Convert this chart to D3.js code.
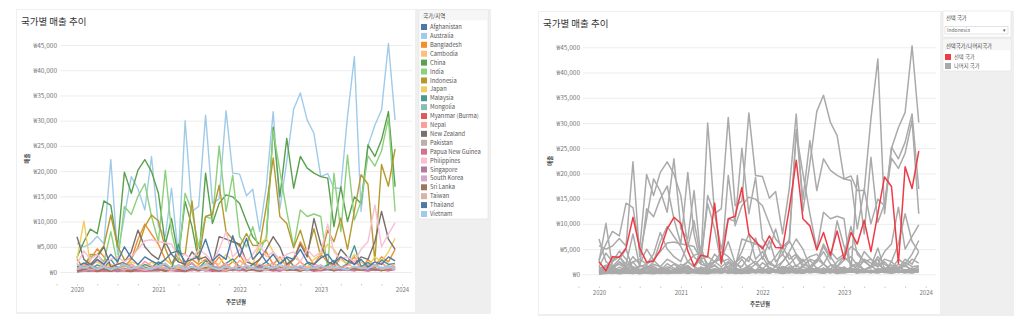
<!DOCTYPE html>
<html><head><meta charset="utf-8">
<script src="https://cdn.jsdelivr.net/npm/d3@7"></script>
<style>
html,body{margin:0;padding:0;background:#fff;}
svg{display:block;font-family:"Noto Sans CJK KR","Noto Sans",sans-serif;}
</style></head>
<body>
<svg id="c" width="1024" height="330"></svg>
<script>
// ---------- data ----------
const countries = ["Afghanistan","Australia","Bangladesh","Cambodia","China","India","Indonesia","Japan","Malaysia","Mongolia","Myanmar (Burma)","Nepal","New Zealand","Pakistan","Papua New Guinea","Philippines","Singapore","South Korea","Sri Lanka","Taiwan","Thailand","Vietnam"];
const colors = ["#4E79A7","#A0CBE8","#F28E2B","#FFBE7D","#59A14F","#8CD17D","#B6992D","#F1CE63","#499894","#86BCB6","#E15759","#FF9D9A","#79706E","#BAB0AC","#D37295","#FABFD2","#B07AA1","#D4A6C8","#9D7660","#D7B5A6","#4E79A7","#A0CBE8"];
const startMonth = "2020-01", endMonth = "2024-01";
const yTickValues = [0,5000,10000,15000,20000,25000,30000,35000,40000,45000];
const xTickYears = ["2020","2021","2022","2023","2024"];
const selectedCountry = "Indonesia";

const afghanistan = [150,400,700,300,600,200,1000,450,250,700,350,550,1200,450,900,300,650,1100,400,750,300,500,1200,600,350,800,450,1400,700,300,950,550,400,1150,600,300,750,1300,450,600,350,900,500,1100,300,700,450,850];
const australia = [5700,5000,5600,7100,5600,22300,3500,11000,18900,16500,12300,22900,9000,7000,16600,3000,30000,12000,13000,31100,13600,14500,32000,19600,19400,15100,16400,8000,17000,31800,12500,22000,32300,35500,30100,27500,18900,19500,16600,16600,30800,42700,12000,25000,29100,32100,45300,30100];
const bangladesh = [400,200,2500,4600,3000,1000,500,1200,2500,6500,9500,7500,5500,2500,1500,3000,1000,2500,1500,2500,1200,3000,1000,2000,3500,1200,500,2500,4000,1500,3000,1000,2500,6000,3500,1500,3500,2000,1000,2800,1500,3000,500,2500,1200,3000,2000,4500];
const cambodia = [1000,600,1500,750,400,1250,500,900,1600,600,1000,450,750,1400,500,1100,350,800,1250,550,950,400,1150,700,500,1300,750,450,1500,850,550,1200,650,400,1050,800,1450,500,900,600,1650,750,1300,550,950,1750,700,1000];
const china = [2900,6000,8500,7600,14100,13200,5000,19800,15600,20200,22300,19900,15600,5500,10600,3000,14000,9000,2000,19600,9600,13600,15300,14900,13600,10000,7000,5400,6300,28700,14900,26500,16600,22900,20600,19600,18900,18600,9000,16900,10000,14900,13600,25200,22900,26200,31800,16900];
const india = [600,1500,3000,3500,2000,8000,1500,13000,11400,15000,17500,11000,6000,20200,8000,2000,15600,12000,5000,11000,10500,25000,12000,19200,7000,5000,9000,4000,7000,28000,20000,12000,5000,12300,11000,11500,11000,500,19600,8000,23200,10300,14000,23000,21000,24000,30500,12000];
const indonesia = [2500,700,3500,3400,5200,11300,5200,2400,2650,4850,9000,11300,10100,4650,1650,3800,3500,14100,2200,11000,11500,17200,8000,6500,5050,7600,5300,5200,13000,22600,11000,9600,4800,8300,3800,8600,3000,8300,6000,10700,4500,12100,19300,17400,2200,21300,17000,24400];
const japan = [2500,10100,1500,2000,1000,1500,800,1000,2000,1500,1000,2000,1000,2500,1500,800,1500,2500,3500,1000,2000,1500,3500,2000,1000,2500,1500,5500,6700,4000,2000,1500,3000,2000,1000,2500,3500,5500,4500,2500,1500,3500,2000,1000,3000,2000,4000,6700];
const malaysia = [300,1000,500,1400,800,2500,700,1700,1000,500,1500,900,2000,1200,600,5500,1000,1700,700,2200,1200,800,1700,2600,1000,600,1500,1100,2000,800,1700,2800,1200,700,1800,1000,600,1400,2300,900,1600,5200,1000,1900,800,2400,1500,1700];
const mongolia = [0,400,200,750,300,500,150,600,350,1000,250,450,700,300,550,150,850,400,250,650,450,200,800,350,500,250,900,450,300,600,200,750,400,550,250,700,350,1050,450,300,650,400,800,250,500,950,350,600];
const myanmar = [50,150,300,100,250,150,400,200,100,300,150,250,450,150,350,200,100,400,250,500,150,300,200,450,250,600,350,150,400,250,550,300,450,200,650,350,250,500,300,700,400,250,550,350,750,450,300,600];
const nepal = [500,1500,900,2400,1300,600,1800,1100,1550,700,2100,1200,900,1700,600,1400,1000,1900,700,1500,2500,900,1700,650,2300,1200,850,1550,1100,1800,800,1300,950,2050,650,1500,1150,700,1700,900,1300,2150,800,1450,1000,1800,850,1550];
const newZealand = [7000,2500,1500,3000,5000,1000,1500,2000,4000,8300,5000,3500,2500,6000,3500,2000,1500,4000,2500,3000,1500,7000,6500,6000,5500,2000,1500,2500,4500,7000,5000,1500,2500,5500,3000,10600,5500,2000,1500,4500,3000,1500,3000,2500,6000,12000,6500,4500];
const pakistan = [750,400,1100,600,300,900,500,1250,700,350,950,550,1150,450,800,250,1000,650,400,850,1300,500,700,350,1050,600,450,900,650,1200,400,750,500,1000,350,800,600,450,1150,550,850,400,700,1000,500,750,1250,650];
const papuaNewGuinea = [100,250,150,450,200,350,100,300,500,150,400,250,200,550,300,150,450,250,600,200,350,150,500,300,400,200,650,250,450,300,200,550,350,250,500,150,400,600,250,450,300,700,350,200,500,400,250,550];
const philippines = [1500,4200,2500,3500,1500,2500,3000,2000,3000,4500,6200,6400,6000,5800,5500,3000,3500,2500,4500,3500,2000,4500,8000,3000,4500,2000,3500,5500,3000,4000,2500,3500,4000,2000,4500,3000,4000,9500,4000,2500,3000,2000,4500,6000,13300,5000,7500,9800];
const singapore = [300,600,200,900,450,700,250,550,1000,400,750,300,650,350,950,500,250,800,600,400,1100,450,700,300,850,550,350,1000,450,650,250,900,500,750,400,1050,350,600,800,450,700,300,950,550,400,850,500,1100];
const southKorea = [500,200,650,350,1000,450,750,300,600,900,250,700,500,950,350,650,1100,400,550,300,750,500,900,350,650,1150,450,600,300,800,500,350,950,600,400,700,1000,450,650,850,350,550,750,1200,500,600,900,400];
const sriLanka = [200,450,800,300,550,150,700,400,250,600,900,350,500,200,750,450,300,650,350,850,500,250,600,400,800,300,550,200,700,450,950,350,500,250,650,400,750,550,300,900,450,650,350,800,500,250,700,950];
const taiwan = [600,1000,450,750,1300,550,900,350,1150,650,450,850,1250,600,400,800,500,1050,700,450,950,600,350,750,1200,500,850,650,400,1000,750,550,1300,450,700,900,500,1100,600,800,450,1050,650,850,1400,550,750,1000];
const thailand = [1000,1800,1200,2500,1500,3500,2000,5000,2800,1500,3000,2200,1500,2500,3800,4200,2000,2500,3000,6500,2200,3500,2500,7200,3000,6700,2500,4000,2000,3500,1500,3000,2500,4500,2000,1500,2800,3500,1800,3000,2200,1500,2500,1000,2000,1500,3000,2200];
const vietnam = [1500,750,1250,500,1000,400,900,1500,600,1250,750,500,1100,1750,750,1400,500,1000,650,1600,850,450,1200,750,550,1350,800,450,1050,700,1500,900,600,1250,500,950,1300,650,1000,750,450,1150,850,600,1400,800,1050,700];

const seriesValues = [afghanistan,australia,bangladesh,cambodia,china,india,indonesia,japan,malaysia,mongolia,myanmar,nepal,newZealand,pakistan,papuaNewGuinea,philippines,singapore,southKorea,sriLanka,taiwan,thailand,vietnam];

// ---------- build ----------
const parseM = d3.timeParse("%Y-%m");
const months = d3.timeMonth.range(parseM(startMonth), parseM(endMonth));
const series = countries.map((c,i)=>({name:c, color:colors[i], values:seriesValues[i].map((v,j)=>({date:months[j], value:v}))}));
const yearDates = xTickYears.map(y=>d3.timeParse("%Y")(y));
const quarterDates = d3.timeMonth.every(3).range(parseM("2019-10"), parseM("2024-03"));

const svg = d3.select("#c");
const FONT = '"Noto Sans CJK KR","Noto Sans",sans-serif';
const fmt = v => "₩" + d3.format(",")(v);

function panel(p){
  const g = svg.append("g");
  g.append("rect").attr("x",p.ox).attr("y",p.oy).attr("width",p.ow).attr("height",p.oh).attr("fill","#EFEFEF");
  g.append("rect").attr("x",p.wx).attr("y",p.wy).attr("width",p.ww).attr("height",p.wh).attr("fill","#fff");
  g.append("text").attr("x",p.wx+4).attr("y",p.wy+15).attr("font-size",9.5).attr("font-weight",400).attr("fill","#333").text("국가별 매출 추이");

  const x = d3.scaleTime().domain([yearDates[0], yearDates[yearDates.length-1]]).range([p.x0,p.x1]);
  const y = d3.scaleLinear().domain([0,45000]).range([p.y0,p.y1]);

  const ya = g.append("g").attr("transform",`translate(${p.gx0},0)`)
    .call(d3.axisLeft(y).tickValues(yTickValues).tickFormat(fmt).tickSize(-(p.gx1-p.gx0)).tickPadding(3));
  ya.select(".domain").remove();
  ya.selectAll("line").attr("stroke","#EDEDED");
  ya.selectAll("text").attr("font-size",6.5).attr("fill","#777").attr("font-family",FONT);

  const qa = g.append("g").attr("transform",`translate(0,${p.axisY-2})`)
    .call(d3.axisBottom(x).tickValues(quarterDates).tickSize(1.5).tickFormat(""));
  qa.select(".domain").remove();
  qa.selectAll("line").attr("stroke","#C8C8C8");

  const xa = g.append("g").attr("transform",`translate(0,${p.axisY})`)
    .call(d3.axisBottom(x).tickValues(yearDates).tickFormat(d3.timeFormat("%Y")).tickSize(0).tickPadding(2));
  xa.select(".domain").remove();
  xa.selectAll("text").attr("font-size",6).attr("fill","#777").attr("font-family",FONT);

  g.append("text").attr("x",p.xTitleX).attr("y",p.xTitleY).attr("text-anchor","middle").attr("font-size",5.5).attr("font-weight",600).attr("fill","#444").text("주문년월");
  g.append("text").attr("transform",`translate(${p.yTitleX},${(p.y0+p.y1)/2}) rotate(-90)`).attr("text-anchor","middle").attr("font-size",5.5).attr("font-weight",600).attr("fill","#444").text("매출");

  const line = d3.line().x(d=>x(d.date)).y(d=>y(d.value));
  const ordered = p.highlight ? series.filter(s=>s.name!==selectedCountry).concat(series.filter(s=>s.name===selectedCountry)) : series;
  g.append("g").selectAll("path").data(ordered).join("path")
    .attr("d",s=>line(s.values)).attr("fill","none")
    .attr("stroke",s=> p.highlight ? (s.name===selectedCountry ? "#EE3B45" : "#AAAAAA") : s.color)
    .attr("stroke-width",p.highlight?1.5:1.4).attr("stroke-linejoin","round");
  return g;
}

panel({ox:16,oy:9,ow:475,oh:305,wx:17,wy:10,ww:398,wh:302,x0:77,x1:402,gx0:60,gx1:412,y0:272,y1:45,axisY:286,xTitleX:236,xTitleY:304,yTitleX:29,highlight:false});
panel({ox:538,oy:11,ow:476,oh:305,wx:539,wy:12,ww:401,wh:302,x0:599,x1:925.7,gx0:583,gx1:936,y0:274.3,y1:47.3,axisY:288.5,xTitleX:760,xTitleY:306,yTitleX:552,highlight:true});

// ---------- left legend ----------
const lg = svg.append("g");
lg.append("rect").attr("x",419).attr("y",10).attr("width",69).attr("height",209).attr("fill","#fff").attr("stroke","#E2E2E2").attr("stroke-width",0.6);
lg.append("rect").attr("x",419.3).attr("y",10.3).attr("width",68.4).attr("height",10).attr("fill","#F6F6F6");
lg.append("text").attr("x",423).attr("y",17.5).attr("font-size",5.5).attr("fill","#444").text("국가/지역");
const ly = d3.scalePoint().domain(countries).range([27,214]);
const le = lg.selectAll("g.item").data(series).join("g").attr("class","item").attr("transform",d=>`translate(421,${ly(d.name)})`);
le.append("rect").attr("x",0).attr("y",-3).attr("width",6).attr("height",6).attr("fill",d=>d.color);
le.append("text").attr("x",9).attr("y",2.1).attr("font-size",5.8).attr("fill","#555").text(d=>d.name);

// ---------- right sidebar ----------
const rg = svg.append("g");
rg.append("rect").attr("x",943).attr("y",11).attr("width",68).attr("height",26).attr("fill","#fff").attr("stroke","#E2E2E2").attr("stroke-width",0.6);
rg.append("text").attr("x",946).attr("y",20).attr("font-size",5.3).attr("fill","#444").text("선택 국가");
rg.append("rect").attr("x",945).attr("y",26.5).attr("width",63).attr("height",7.5).attr("fill","#fff").attr("stroke","#D0D0D0").attr("stroke-width",0.6);
rg.append("text").attr("x",947).attr("y",32.2).attr("font-size",5).attr("fill","#666").text(selectedCountry);
rg.append("text").attr("x",1003).attr("y",32.2).attr("font-size",5).attr("fill","#555").text("▾");
rg.append("rect").attr("x",943).attr("y",39).attr("width",68).attr("height",32).attr("fill","#fff").attr("stroke","#E2E2E2").attr("stroke-width",0.6);
rg.append("rect").attr("x",943.3).attr("y",39.3).attr("width",67.4).attr("height",11).attr("fill","#F6F6F6");
rg.append("text").attr("x",946).attr("y",47.5).attr("font-size",5.3).attr("fill","#444").text("선택국가/나머지국가");
const rItems = [{name:"선택 국가",color:"#EE3B45"},{name:"나머지 국가",color:"#AAAAAA"}];
const ry = d3.scalePoint().domain(rItems.map(d=>d.name)).range([57,66]);
const re = rg.selectAll("g.ri").data(rItems).join("g").attr("class","ri").attr("transform",d=>`translate(945,${ry(d.name)})`);
re.append("rect").attr("x",0).attr("y",-3).attr("width",6).attr("height",6).attr("fill",d=>d.color);
re.append("text").attr("x",9).attr("y",2).attr("font-size",5.3).attr("fill","#555").text(d=>d.name);
</script>
</body></html>
